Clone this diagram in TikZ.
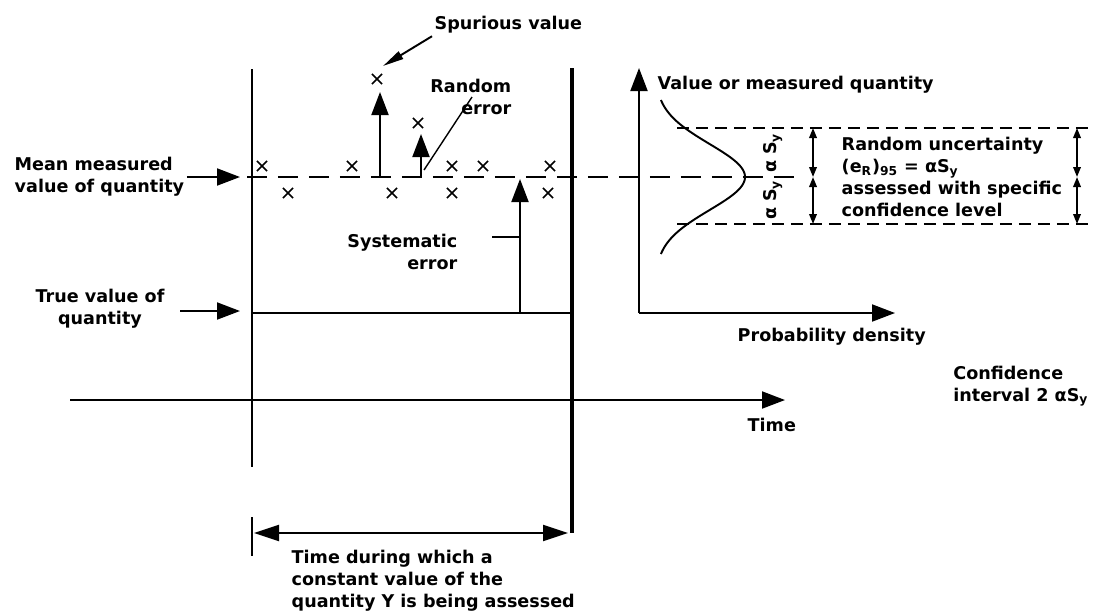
\documentclass[tikz,border=0pt]{standalone}
\usepackage{fontspec}
\setmainfont{DejaVu Sans}
\usetikzlibrary{arrows.meta,positioning,calc,shapes.misc}

\tikzset{
  lbl/.style={font=\bfseries\fontsize{10}{12.5}\selectfont, inner sep=1pt},
  bigarrow/.style={-{Triangle[length=0.46cm,width=0.34cm]}, line width=1.1pt},
  bigboth/.style={{Triangle[length=0.5cm,width=0.32cm]}-{Triangle[length=0.5cm,width=0.32cm]}, line width=1.1pt},
  leadarrow/.style={-{Triangle[length=0.42cm,width=0.17cm]}, line width=1.1pt},
  smallboth/.style={{Triangle[length=0.2cm,width=0.15cm]}-{Triangle[length=0.2cm,width=0.15cm]}, line width=1.1pt},
  xpt/.style={cross out, draw, line width=0.9pt, minimum size=0.17cm, inner sep=0pt},
  meanline/.style={line width=1.3pt, dash pattern=on 0.4cm off 0.22cm},
  bandline/.style={line width=0.7pt, dash pattern=on 0.24cm off 0.14cm},
}

\begin{document}
\begin{tikzpicture}[x=0.02cm, y=-0.02cm, line width=1.1pt]
  \useasboundingbox (0,0) rectangle (1094,613);
  % ================================================================== time window
  \coordinate (lefttop) at (252,69);
  \coordinate (leftbot) at (252,467);
  \coordinate (righttop) at (572,68);
  \coordinate (rightbot) at (572,533);
  \draw[line width=1.7pt] (lefttop) -- (leftbot);
  \draw[line width=2.8pt] (righttop) -- (rightbot);
  \coordinate (timeL) at (70,400);
  \coordinate (timeR) at (785,400);
  \draw[bigarrow] (timeL) -- (timeR);
  \node[lbl, anchor=west] (timelbl) at (745,425) {Time};
  % ================================================================== mean and true values
  \coordinate (meanL) at (247,177);
  \coordinate (meanR) at (800,177);
  \draw[meanline] (meanL) -- (meanR);
  \node[lbl, anchor=west, align=left] (meanlbl) at (12,177) {Mean measured\\value of quantity};
  \coordinate (meantip) at (240,177);
  \draw[bigarrow] (meanlbl.east) -- (meantip);
  \coordinate (trueL) at (252,313);
  \coordinate (trueR) at (572,313);
  \draw (trueL) -- (trueR);
  \node[lbl, align=center] (truelbl) at (100,309) {True value of\\quantity};
  \coordinate (truestart) at (180,311);
  \coordinate (truetip) at (240,311);
  \draw[bigarrow] (truestart) -- (truetip);
  % ================================================================== readings
  \foreach \mx/\my [count=\i] in {262/166, 288/193, 352/166, 377/79, 392/193, 418/123,
                                  452/166, 452/193, 483/166, 550/166, 548/193}
    \node[xpt] (m\i) at (\mx,\my) {};
  % spurious value
  \coordinate (spurbase) at (380,177);
  \coordinate (spurtip) at (380,92);
  \draw[bigarrow] (spurbase) -- (spurtip);
  \node[lbl, anchor=west] (spurlbl) at (432,25) {Spurious value};
  \coordinate (spurhead) at (383,66);
  \draw[leadarrow] (spurlbl.south west) -- (spurhead);
  % random error
  \coordinate (randbase) at (421,177);
  \coordinate (randtip) at (421,134);
  \draw[bigarrow] (randbase) -- (randtip);
  \node[lbl, anchor=east, align=right] (randlbl) at (514,97) {Random\\error};
  \coordinate (randlow) at (424,170);
  \coordinate (randtop) at (472,97);
  \draw[line width=0.8pt] (randlow) -- (randtop);
  % systematic error
  \coordinate (sysbase) at (520,313);
  \coordinate (systip) at (520,179);
  \draw[bigarrow] (sysbase) -- (systip);
  \node[lbl, anchor=east, align=right] (syslbl) at (460,252) {Systematic\\error};
  \coordinate (sysleadL) at (492,237);
  \coordinate (sysleadR) at (520,237);
  \draw (sysleadL) -- (sysleadR);
  % ================================================================== assessment interval
  \coordinate (tickT) at (252,517);
  \coordinate (tickB) at (252,556);
  \draw[line width=0.9pt] (tickT) -- (tickB);
  \coordinate (spanL) at (254,533);
  \coordinate (spanR) at (568,533);
  \draw[bigboth] (spanL) -- (spanR);
  \node[lbl, anchor=west, align=left] (spanlbl) at (289,581)
       {Time during which a\\constant value of the\\quantity Y is being assessed};
  % ================================================================== probability density
  \coordinate (origin) at (639,313);
  \coordinate (vtip) at (639,68);
  \coordinate (htip) at (895,313);
  \draw[bigarrow] (origin) -- (vtip);
  \draw[bigarrow] (origin) -- (htip);
  \node[lbl, anchor=west] (vlbl) at (655,85) {Value or measured quantity};
  \node[lbl, anchor=west] (hlbl) at (735,337) {Probability density};
  \draw plot[domain=100:254, samples=80, smooth, variable=\t]
       ({655+90*exp(-((\t-177)/33)^2/2)}, \t);
  \coordinate (bandTL) at (677,128);
  \coordinate (bandTR) at (1094,128);
  \coordinate (bandBL) at (677,224);
  \coordinate (bandBR) at (1094,224);
  \draw[bandline] (bandTL) -- (bandTR);
  \draw[bandline] (bandBL) -- (bandBR);
  \node[lbl, rotate=90] (sigup) at (773,153) {α S\textsubscript{y}};
  \node[lbl, rotate=90] (sigdn) at (773,200) {α S\textsubscript{y}};
  \foreach \ax/\nm in {813/a, 1077/b} {
    \coordinate (\nm top) at (\ax,128);
    \coordinate (\nm mid) at (\ax,177);
    \coordinate (\nm bot) at (\ax,224);
    \draw[smallboth] (\nm top) -- (\nm mid);
    \draw[smallboth] (\nm mid) -- (\nm bot);
  }
  \node[lbl, anchor=west, align=left] (unclbl) at (839,177)
       {Random uncertainty\\(e\textsubscript{R})\textsubscript{95} = αS\textsubscript{y}\\assessed with specific\\confidence level};
  \node[lbl, anchor=east, align=left] (conflbl) at (1091,386) {Confidence\\interval 2 αS\textsubscript{y}};
\end{tikzpicture}
\end{document}
